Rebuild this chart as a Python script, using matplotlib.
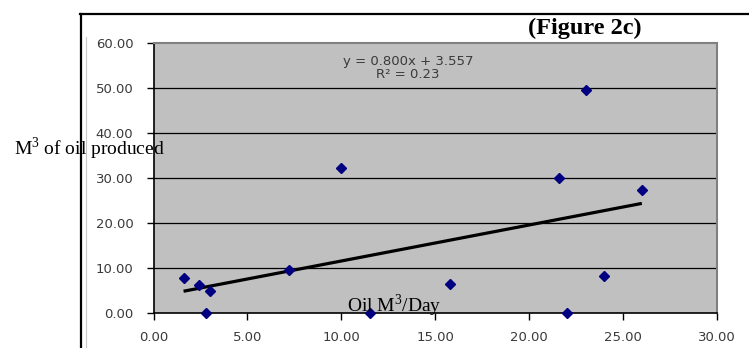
import matplotlib
matplotlib.use("Agg")
import matplotlib.pyplot as plt
from matplotlib.lines import Line2D
import numpy as np

plt.rcParams['mathtext.fontset'] = 'custom'
plt.rcParams['mathtext.rm'] = 'Liberation Serif'

# Data
oil_per_day = [1.6, 2.4, 2.8, 3.0, 7.2, 10.0, 11.5, 15.8, 21.6, 22.0, 23.0, 24.0, 26.0]
oil_produced = [7.8, 6.3, 0.0, 5.0, 9.5, 32.3, 0.0, 6.4, 30.0, 0.0, 49.6, 8.3, 27.3]
trend_slope = 0.800
trend_intercept = 3.557
r_squared = 0.23
x_ticks = [0, 5, 10, 15, 20, 25, 30]
y_ticks = [0, 10, 20, 30, 40, 50, 60]

W, H = 749, 348
fig = plt.figure(figsize=(W / 100, H / 100), dpi=100)
fig.patch.set_facecolor('white')

ax = fig.add_axes([153.5 / W, 1 - 313 / H, (717 - 153.5) / W, (313 - 43) / H])
ax.set_facecolor('#c0c0c0')
ax.set_xlim(0, 30)
ax.set_ylim(0, 60)
ax.set_xticks(x_ticks)
ax.set_yticks(y_ticks)
ax.set_xticklabels([f"{v:.2f}" for v in x_ticks])
ax.set_yticklabels([f"{v:.2f}" for v in y_ticks])
for lab in ax.get_xticklabels() + ax.get_yticklabels():
    lab.set_fontfamily('DejaVu Sans')
ax.tick_params(axis='both', direction='out', length=5, width=1, color='black',
               labelcolor='#3a3a3a', labelsize=9.5)
ax.tick_params(axis='y', pad=9.5)
ax.tick_params(axis='x', pad=8)

for v in y_ticks[1:-1]:
    ax.axhline(v, color='black', lw=0.9, zorder=1)

ax.spines['left'].set_color('black')
ax.spines['bottom'].set_color('black')
ax.spines['left'].set_linewidth(1.2)
ax.spines['bottom'].set_linewidth(1.2)
ax.spines['top'].set_color('#808080')
ax.spines['right'].set_color('#808080')
ax.spines['top'].set_linewidth(1.5)
ax.spines['right'].set_linewidth(1.5)

ax.plot(oil_per_day, oil_produced, linestyle='none', marker='D', markersize=5.5,
        color='#000080', zorder=3, clip_on=False)

tx = np.array([min(oil_per_day), max(oil_per_day)])
ax.plot(tx, trend_slope * tx + trend_intercept, color='black', lw=2.3, zorder=2,
        solid_capstyle='butt')

ax.text(408 / W, 1 - 61 / H, f"y = {trend_slope:.3f}x + {trend_intercept:.3f}",
        transform=fig.transFigure, ha='center', va='center', fontsize=9.5,
        color='#3a3a3a', family='DejaVu Sans')
ax.text(408 / W, 1 - 74 / H, f"R² = {r_squared:.2f}",
        transform=fig.transFigure, ha='center', va='center', fontsize=9.5,
        color='#3a3a3a', family='DejaVu Sans')

fig.text(14 / W, 1 - 149 / H, r"M$^{\mathrm{3}}$ of oil produced", ha='left', va='center',
         fontsize=14, family='Liberation Serif', color='black')
fig.text(347 / W, 1 - 312 / H, r"Oil M$^{\mathrm{3}}$/Day", ha='left', va='baseline',
         fontsize=14, family='Liberation Serif', color='black')
fig.text(585 / W, 1 - 28 / H, "(Figure 2c)", ha='center', va='center',
         fontsize=17.5, fontweight='bold', family='Liberation Serif', color='black')

# document frame lines
fig.add_artist(Line2D([80 / W, 1], [1 - 14 / H, 1 - 14 / H], color='black', lw=1.6,
                      transform=fig.transFigure))
fig.add_artist(Line2D([80.5 / W, 80.5 / W], [0, 1 - 14 / H], color='black', lw=1.6,
                      transform=fig.transFigure))
fig.add_artist(Line2D([85.5 / W, 85.5 / W], [0, 1 - 37 / H], color='#c8c8c8', lw=0.8,
                      transform=fig.transFigure))

fig.savefig('out.png', dpi=100)
